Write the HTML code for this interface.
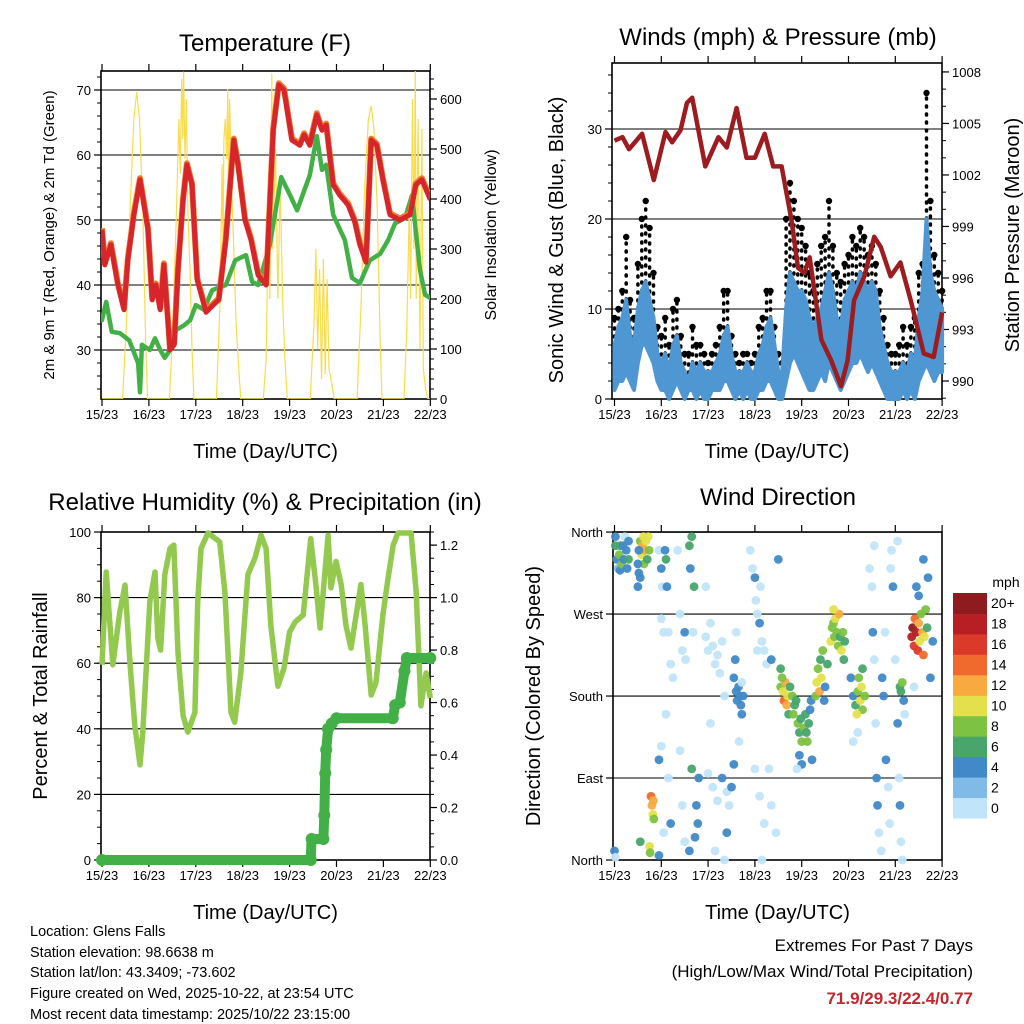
<!DOCTYPE html>
<html><head><meta charset="utf-8"><style>
html,body{margin:0;padding:0;background:#fff}
svg{display:block;font-family:"Liberation Sans",sans-serif}
</style></head><body>
<svg id="s" width="1024" height="1024" viewBox="0 0 1024 1024">
<rect width="1024" height="1024" fill="#fff"/>
<g id="g"></g>
<g font-size="14.5" fill="#000">
<text x="30" y="936">Location: Glens Falls</text>
<text x="30" y="957">Station elevation: 98.6638 m</text>
<text x="30" y="977">Station lat/lon: 43.3409; -73.602</text>
<text x="30" y="998">Figure created on Wed, 2025-10-22, at 23:54 UTC</text>
<text x="30" y="1019">Most recent data timestamp: 2025/10/22 23:15:00</text>
</g>
<g text-anchor="end">
<text x="973" y="951" font-size="17">Extremes For Past 7 Days</text>
<text x="973" y="977" font-size="17">(High/Low/Max Wind/Total Precipitation)</text>
<text x="973" y="1004" font-size="17" font-weight="bold" fill="#c1272d">71.9/29.3/22.4/0.77</text>
</g>
</svg>
<script>
// ---- Temperature panel data ----
const tempT=[0,0.06,0.19,0.34,0.47,0.55,0.68,0.81,0.98,1.07,1.15,1.24,1.32,1.45,1.54,1.62,1.73,1.81,1.92,2.03,2.22,2.37,2.49,2.64,2.81,2.90,3.05,3.18,3.33,3.50,3.65,3.77,3.88,4.05,4.22,4.31,4.43,4.58,4.69,4.78,4.93,5.07,5.25,5.39,5.50,5.63,5.74,5.86,5.99,6.14,6.35,6.57,6.69,6.82,7.0];
const tempV=[48.5,43.1,46.2,40,36.2,43.8,50.8,56.2,48.5,37.7,40,36.2,43.1,30,30.8,42.3,53.1,58.5,55.4,40.8,35.8,36.9,37.7,46.9,62.3,58.5,50,46.9,41.5,40,63.8,70.8,70,62.3,61.5,63.1,61.5,66.2,63.8,64.6,55.4,53.8,52.3,49.7,46.2,43.5,62.3,61.5,56.2,50.8,50,50.8,55.4,56.2,53.1];
const dewT=[0,0.09,0.21,0.38,0.58,0.66,0.77,0.81,0.85,1.02,1.13,1.24,1.34,1.45,1.58,1.75,1.88,2.00,2.17,2.35,2.64,2.84,3.07,3.20,3.33,3.58,3.82,4.01,4.16,4.43,4.58,4.69,4.78,4.93,5.18,5.33,5.50,5.71,5.93,6.10,6.25,6.46,6.61,6.78,6.89,7.0];
const dewV=[34.6,37.4,32.8,32.6,31.5,30,28,23.5,30.8,30,31.8,30,28.8,30,33.1,33.8,34.6,36.9,36.2,39.2,40,43.8,44.6,40.5,40,46.2,56.6,53.8,51.5,56.9,62.9,57.7,58.5,50.8,46.9,41.1,40.3,43.8,44.8,46.9,49.5,50.3,53.8,42.3,38.5,38];
const solT=[0,0.44,0.52,0.6,0.68,0.74,0.8,0.87,0.93,0.97,1.44,1.5,1.58,1.64,1.67,1.7,1.72,1.74,1.77,1.8,1.83,1.88,1.92,1.96,2.44,2.52,2.56,2.58,2.6,2.63,2.66,2.68,2.7,2.72,2.76,2.8,2.86,2.93,2.96,3.44,3.5,3.56,3.58,3.62,3.64,3.7,3.75,3.8,3.85,3.9,3.95,4.44,4.52,4.56,4.6,4.64,4.68,4.72,4.76,4.8,4.84,4.9,4.95,5.44,5.52,5.6,5.68,5.74,5.8,5.87,5.93,5.97,6.44,6.5,6.55,6.58,6.62,6.65,6.68,6.7,6.74,6.78,6.82,6.85,6.9,6.95,7.0];
const solV=[0,0,150,380,560,614,560,380,120,0,0,120,350,560,450,640,520,655,480,600,380,250,100,0,0,200,470,300,520,560,480,620,420,600,440,330,150,40,0,0,80,420,200,650,300,500,200,430,200,80,0,0,150,300,100,260,40,280,50,240,60,30,0,0,180,420,560,586,540,380,120,0,0,140,380,200,600,300,656,200,560,100,540,60,20,0,0];
// ---- Wind panel data (2-hourly) ----
const windLo=[1,2,2,3,2,1,4,6,6,5,4,2, 1,1,0,1,2,1,0,1,1,0,1,0, 0,1,1,1,2,2,1,0,1,0,1,0, 0,1,1,2,2,1,0,0,2,4,5,4, 3,2,1,1,2,3,2,4,3,2,1,2, 3,4,4,5,4,3,4,3,2,1,0,0, 0,0,1,0,1,0,2,3,4,3,2,3, 3];
const windHi=[6,8,9,11,7,6,10,12,13,11,9,5, 4,5,3,6,7,4,3,2,4,3,4,3, 3,3,4,5,7,8,5,3,3,3,4,3, 3,5,6,8,9,6,3,3,10,14,13,12, 12,11,9,8,9,10,12,14,12,9,8,11, 12,13,12,14,13,12,13,12,8,6,4,3, 3,3,4,3,5,4,9,12,20,14,12,11, 10];
const gust=[9,10,12,18,11,9,15,20,22,19,14,8, 7,9,6,10,11,7,5,5,8,6,6,5, 4,5,6,8,12,12,7,5,4,5,5,4, 5,8,9,12,12,8,5,4,20,24,22,20, 19,17,14,12,15,17,18,22,17,14,13,15, 16,18,17,19,18,16,17,15,12,9,6,5, 5,6,8,6,8,9,14,15,34,22,16,14, 12];
const presT=[0,0.17,0.31,0.59,0.84,1.09,1.23,1.41,1.55,1.66,1.94,2.22,2.40,2.61,2.82,3.00,3.21,3.39,3.57,3.78,3.92,4.06,4.17,4.42,4.63,4.84,4.98,5.12,5.34,5.55,5.69,5.90,6.11,6.33,6.61,6.82,7.0];
const presV=[1004.0,1004.2,1003.5,1004.4,1001.7,1004.5,1003.9,1004.6,1006.2,1006.5,1002.5,1004.2,1003.6,1005.9,1003.0,1003.0,1004.4,1002.5,1002.5,999.4,996.6,996.3,997.2,992.4,991.2,989.7,991.2,994.7,996.1,998.4,997.8,996.1,996.9,994.7,991.6,991.4,994.0];
// ---- RH / precip data ----
const rhT=[0,0.09,0.17,0.23,0.38,0.49,0.6,0.7,0.81,0.87,1.02,1.13,1.19,1.25,1.34,1.45,1.53,1.62,1.73,1.83,1.98,2.04,2.11,2.26,2.51,2.62,2.75,2.83,2.96,3.11,3.26,3.39,3.5,3.6,3.75,3.88,4.0,4.12,4.29,4.45,4.56,4.65,4.82,4.88,4.99,5.1,5.2,5.31,5.52,5.61,5.74,5.84,5.99,6.1,6.21,6.31,6.59,6.7,6.8,6.91,7.0];
const rhV=[59.5,87.8,71.6,59.5,75.6,83.8,59.5,41,29,39,78.7,87.8,67.7,64,87,95,96,63,44,39,45,78.7,95,99.7,97,81.7,45,42,57,87,92,99,95,71.6,53,58.5,69.5,72.6,74.7,98,83.8,70.7,99,83,91,84,71.6,64.6,84,71.6,50.3,54,74.7,86,96,99.7,99.7,81.7,47,57,49.4];
const precT=[0,4.45,4.47,4.72,4.74,4.76,4.78,4.82,4.9,5.0,6.2,6.25,6.35,6.45,6.5,7.0];
const precV=[0,0,0.08,0.08,0.17,0.33,0.42,0.5,0.52,0.54,0.54,0.59,0.60,0.72,0.77,0.77];
// ---- Wind direction data ----
const dirT=[0.02,0.02,0.05,0.08,0.1,0.12,0.12,0.15,0.18,0.2,0.22,0.25,0.27,0.3,0.3,0.55,0.58,0.6,0.62,0.63,0.65,0.67,0.7,0.72,0.74,0.5,0.52,0.55,0.5,0.52,0.78,0.8,0.82,0.84,0.83,0.75,0.76,0.55,0.0,0.02,0.95,1.0,1.02,1.0,1.05,1.08,1.1,1.12,1.15,1.2,1.1,1.0,0.95,1.05,1.15,1.2,0.95,1.25,1.35,1.4,1.45,1.5,1.52,1.6,1.62,1.65,1.7,1.68,1.75,1.78,1.8,1.72,1.65,1.6,1.5,1.45,1.4,1.95,2.0,2.05,2.1,2.15,2.2,2.25,2.3,2.35,2.0,2.1,2.2,2.3,2.4,2.45,1.95,2.05,2.15,2.35,2.4,2.55,2.6,2.62,2.65,2.68,2.7,2.72,2.58,2.6,2.66,2.55,2.5,2.75,2.72,2.9,2.95,3.0,3.02,3.05,3.1,3.15,3.2,3.25,3.12,3.05,3.0,3.1,3.2,3.15,3.3,3.35,3.45,3.5,3.35,3.55,3.6,3.62,3.65,3.68,3.7,3.72,3.75,3.55,3.58,3.8,3.82,3.85,3.88,3.92,3.95,3.98,4.0,4.05,4.08,4.1,4.12,4.15,4.18,4.2,4.0,3.95,4.22,3.9,4.3,4.32,4.35,4.38,4.4,4.42,4.45,4.48,4.5,4.55,4.62,4.65,4.68,4.7,4.72,4.75,4.78,4.8,4.82,4.85,4.88,4.9,4.92,4.68,5.05,5.1,5.15,5.2,5.25,5.28,5.3,5.22,5.18,5.3,5.35,5.1,5.2,5.45,5.5,5.52,5.55,5.58,5.6,5.62,5.65,5.7,5.72,5.75,5.78,5.8,5.85,5.88,5.9,5.92,5.95,6.0,6.05,6.08,6.1,6.12,6.15,6.05,5.55,6.1,6.12,6.15,6.18,6.2,6.35,6.37,6.4,6.42,6.45,6.48,6.5,6.52,6.55,6.58,6.6,6.62,6.65,6.68,6.5,6.45,6.6,6.7,6.75,6.8,6.4];
const dirDeg=[355,345,330,320,335,345,318,325,345,330,355,340,320,350,330,350,335,345,355,325,340,350,330,355,340,325,340,310,300,315,70,60,50,45,65,15,8,20,10,3,340,320,300,265,250,340,330,300,250,215,160,125,110,30,90,40,5,200,340,270,230,250,220,345,320,355,300,250,60,40,90,25,100,10,20,60,120,245,230,260,235,215,225,205,240,180,95,80,65,90,75,60,300,150,10,0,30,200,185,175,190,180,170,160,220,250,130,105,80,180,195,340,320,310,285,270,260,240,230,215,300,230,100,70,40,0,100,60,30,330,220,190,185,175,195,170,180,160,190,210,200,180,160,170,175,150,140,155,130,145,160,140,130,150,165,175,105,115,110,100,180,195,210,185,220,200,230,175,190,215,240,255,260,245,265,250,235,270,245,230,250,220,240,275,200,180,170,185,175,190,165,200,160,210,180,130,140,320,300,250,220,150,90,60,30,10,200,180,250,110,80,40,320,340,300,220,150,90,60,20,0,350,345,190,185,195,175,160,245,255,235,265,250,230,260,240,270,250,225,245,275,255,290,300,330,310,200,240,190];
const dirSpd=[4,6,4,3,8,6,4,8,4,4,1,4,4,4,6,8,10,12,10,8,12,10,6,10,8,4,4,4,4,4,14,12,10,8,12,10,8,6,4,1,1,4,1,1,1,4,6,4,1,1,1,1,4,1,1,4,4,1,1,1,1,4,1,6,4,6,6,1,4,4,4,4,6,4,1,1,1,1,1,1,1,1,1,1,1,1,1,1,1,4,1,1,1,1,1,1,4,4,4,4,4,4,4,4,4,1,1,4,4,4,1,1,1,4,1,1,4,1,1,1,1,1,1,1,1,1,1,1,1,4,4,8,10,14,12,12,10,6,6,6,8,8,8,6,6,8,6,6,8,8,6,6,8,6,4,4,4,4,4,1,8,10,8,12,6,10,8,4,4,6,10,8,8,8,10,8,8,12,6,10,8,6,6,10,4,4,6,8,10,10,8,8,10,6,8,1,1,1,1,4,1,1,4,4,1,1,4,4,1,4,1,1,1,1,4,1,4,1,4,1,1,1,1,6,6,8,4,1,18,20,16,14,18,16,12,10,8,12,14,10,8,6,4,4,4,4,4,4,1];
const spdColors=['#c1e5f8','#7fbbe6','#4189c7','#48a56b','#7dc242','#e4e04b','#f8aa40','#ef6a2c','#db3a2b','#b71f24','#8e1b1e'];
const spdLabels=['0','2','4','6','8','10','12','14','16','18','20+'];

const NS='http://www.w3.org/2000/svg';
const G=document.getElementById('g');
function mk(tag,attrs,parent){const e=document.createElementNS(NS,tag);for(const k in attrs)e.setAttribute(k,attrs[k]);(parent||G).appendChild(e);return e;}
function txt(x,y,s,size,anchor,parent,rot){const e=mk('text',{x:x,y:y,'font-size':size,'text-anchor':anchor||'middle'},parent);if(rot)e.setAttribute('transform','rotate(-90 '+x+' '+y+')');e.textContent=s;return e;}
function path(xs,ys){let d='';for(let i=0;i<xs.length;i++)d+=(i?'L':'M')+xs[i].toFixed(1)+' '+ys[i].toFixed(1);return d;}
const days=['15/23','16/23','17/23','18/23','19/23','20/23','21/23','22/23'];

function frame(L,T,R,B,xs,name){
  const g=mk('g',{});
  
  
  mk('rect',{x:L,y:T,width:R-L,height:B-T,fill:'none',stroke:'#000','stroke-width':1.6},g);
  for(let d=0;d<=7;d++){const x=xs(d);
    mk('line',{x1:x,y1:B,x2:x,y2:B+7,stroke:'#000','stroke-width':1.2},g);
    mk('line',{x1:x,y1:T,x2:x,y2:T-7,stroke:'#000','stroke-width':1.2},g);
    const t=txt(x,B+20,days[d],13,'middle',g);
    
    
  }
  const xt=txt((L+R)/2,B+59,'Time (Day/UTC)',20,'middle',g);
  
  
  return g;
}
function leftAxis(g,L,R,ys,vals,labels,minor,grid){
  vals.forEach((v,i)=>{const y=ys(v);
    mk('line',{x1:L-7,y1:y,x2:L,y2:y,stroke:'#000','stroke-width':1.2},g);
    if(grid)mk('line',{x1:L,y1:y,x2:R,y2:y,stroke:'#000','stroke-width':1.1},g);
    const t=txt(L-10,y+5,labels[i],13,'end',g);
    
    });
  minor.forEach(v=>{const y=ys(v);mk('line',{x1:L-4,y1:y,x2:L,y2:y,stroke:'#000','stroke-width':1},g);});
}
function rightAxis(g,R,ys,vals,labels,minor){
  vals.forEach((v,i)=>{const y=ys(v);
    mk('line',{x1:R,y1:y,x2:R+7,y2:y,stroke:'#000','stroke-width':1.2},g);
    const t=txt(R+10,y+5,labels[i],13,'start',g);
    
    });
  minor.forEach(v=>{const y=ys(v);mk('line',{x1:R,y1:y,x2:R+4,y2:y,stroke:'#000','stroke-width':1},g);});
}
function range(a,b,s){const r=[];for(let v=a;v<=b+1e-9;v+=s)r.push(+v.toFixed(3));return r;}

// ===== Panel 1: Temperature =====
(function(){
  const L=101,R=430,T=71,B=399;
  const X=t=>102+t*46.9, Y=v=>90+(70-v)*6.5, YS=s=>399-s*0.5;
  const g=frame(L,T,R,B,X,'temperature');
  leftAxis(g,L,R,Y,[30,40,50,60,70],['30','40','50','60','70'],range(24,72,2),true);
  rightAxis(g,R,YS,[0,100,200,300,400,500,600],['0','100','200','300','400','500','600'],range(0,640,20));
  const ttl=txt(265,51,'Temperature (F)',24,'middle',g);
  
  
  const yl=txt(54,235,'2m & 9m T (Red, Orange) & 2m Td (Green)',15,'middle',g,true);
  
  
  const yr=txt(496,235,'Solar Insolation (Yellow)',16,'middle',g,true);
  
  
  const cp=mk('clipPath',{id:'c1'});mk('rect',{x:L,y:T,width:R-L,height:B-T},cp);
  const sol=mk('path',{d:path(solT.map(X),solV.map(YS)),fill:'none',stroke:'#f9dc4c','stroke-width':1.2,'clip-path':'url(#c1)'});
  
  
  const dew=mk('path',{d:path(dewT.map(X),dewV.map(Y)),fill:'none',stroke:'#43b047','stroke-width':4.5,'stroke-linecap':'round','stroke-linejoin':'round','clip-path':'url(#c1)'});
  
  
  const t9=mk('path',{d:path(tempT.map(X),tempV.map(v=>Y(v)-1.5)),fill:'none',stroke:'#f47b2b','stroke-width':6,'stroke-linejoin':'round','clip-path':'url(#c1)'});
  
  
  const t2=mk('path',{d:path(tempT.map(X),tempV.map(Y)),fill:'none',stroke:'#d7262b','stroke-width':5,'stroke-linejoin':'round','clip-path':'url(#c1)'});
  
  
})();

// ===== Panel 2: Winds =====
(function(){
  const L=612,R=942,T=63,B=399;
  const X=t=>614.5+t*46.8, Y=v=>399-9*v, YP=p=>381-(p-990)*17.17;
  const g=frame(L,T,R,B,X,'winds');
  leftAxis(g,L,R,Y,[0,10,20,30],['0','10','20','30'],range(0,36,2),true);
  rightAxis(g,R,YP,[990,993,996,999,1002,1005,1008],['990','993','996','999','1002','1005','1008'],range(989,1008,1));
  const ttl=txt(778,45,'Winds (mph) & Pressure (mb)',24,'middle',g);
  
  
  const yl=txt(563,240,'Sonic Wind & Gust (Blue, Black)',20,'middle',g,true);
  
  
  const yr=txt(1019,235,'Station Pressure (Maroon)',20,'middle',g,true);
  
  
  const n=gust.length, tt=[];for(let i=0;i<n;i++)tt.push(i/12);
  for(let i=0;i<n;i++){
    const s=mk('line',{x1:X(tt[i]),y1:Y(windHi[i]),x2:X(tt[i]),y2:Y(gust[i]),stroke:'#000','stroke-width':3.5,'stroke-linecap':'round','stroke-dasharray':'1 7'});
    
    
    const c=mk('circle',{cx:X(tt[i]),cy:Y(gust[i]),r:3.2,fill:'#000'});
    
    
  }
  const xs=tt.map(X).concat(tt.map(X).reverse()), ys=windHi.map(Y).concat(windLo.map(Y).reverse());
  const band=mk('path',{d:path(xs,ys)+'Z',fill:'#4f97d3',stroke:'#4f97d3','stroke-width':4,'stroke-linejoin':'round'});
  
  
  const pl=mk('path',{d:path(presT.map(X),presV.map(YP)),fill:'none',stroke:'#9c1c1f','stroke-width':4.5,'stroke-linejoin':'round'});
  
  
})();

// ===== Panel 3: RH & Precip =====
(function(){
  const L=101,R=430,T=532,B=860;
  const X=t=>102+t*46.9, Y=v=>860-3.28*v, YQ=q=>860-q*262.4;
  const g=frame(L,T,R,B,X,'humidity');
  leftAxis(g,L,R,Y,[0,20,40,60,80,100],['0','20','40','60','80','100'],range(0,100,5),true);
  rightAxis(g,R,YQ,[0,0.2,0.4,0.6,0.8,1.0,1.2],['0.0','0.2','0.4','0.6','0.8','1.0','1.2'],range(0,1.25,0.05));
  const ttl=txt(265,510,'Relative Humidity (%) & Precipitation (in)',24,'middle',g);
  
  
  const yl=txt(47,696,'Percent & Total Rainfall',20,'middle',g,true);
  
  
  const rh=mk('path',{d:path(rhT.map(X),rhV.map(Y)),fill:'none',stroke:'#93c94f','stroke-width':5.5,'stroke-linejoin':'round'});
  
  
  const pr=mk('path',{d:path(precT.map(X),precV.map(YQ)),fill:'none',stroke:'#43b047','stroke-width':10,'stroke-linecap':'round','stroke-linejoin':'round'});
  
  
  for(let i=0;i<precT.length;i++){
    const c=mk('circle',{cx:X(precT[i]),cy:YQ(precV[i]),r:6,fill:'#43b047'});
    
    
  }
})();

// ===== Panel 4: Wind Direction =====
(function(){
  const L=613,R=942,T=532,B=860;
  const X=t=>614.5+t*46.8, Y=d=>860-d*0.911;
  const g=frame(L,T,R,B,X,'wind-direction');
  leftAxis(g,L,R,Y,[0,90,180,270,360],['North','East','South','West','North'],[],true);
  const ttl=txt(778,505,'Wind Direction',24,'middle',g);
  
  
  const yl=txt(540,696,'Direction (Colored By Speed)',20,'middle',g,true);
  
  
  for(let i=0;i<dirT.length;i++){
    const k=Math.min(10,Math.floor(dirSpd[i]/2));
    const c=mk('circle',{cx:X(dirT[i]),cy:Y(dirDeg[i]),r:4.4,fill:spdColors[k],'fill-opacity':0.95});
    
    
  }
  const cb=mk('g',{});
  
  
  const h=225/11;
  txt(1006,587,'mph',14,'middle',cb);
  for(let k=0;k<11;k++){
    const y=593+(10-k)*h;
    const r=mk('rect',{x:953,y:y,width:34,height:h+0.5,fill:spdColors[k]},cb);
    
    
    txt(991,y+h/2+5,spdLabels[k],14,'start',cb);
  }
})();
</script>
</body></html>
